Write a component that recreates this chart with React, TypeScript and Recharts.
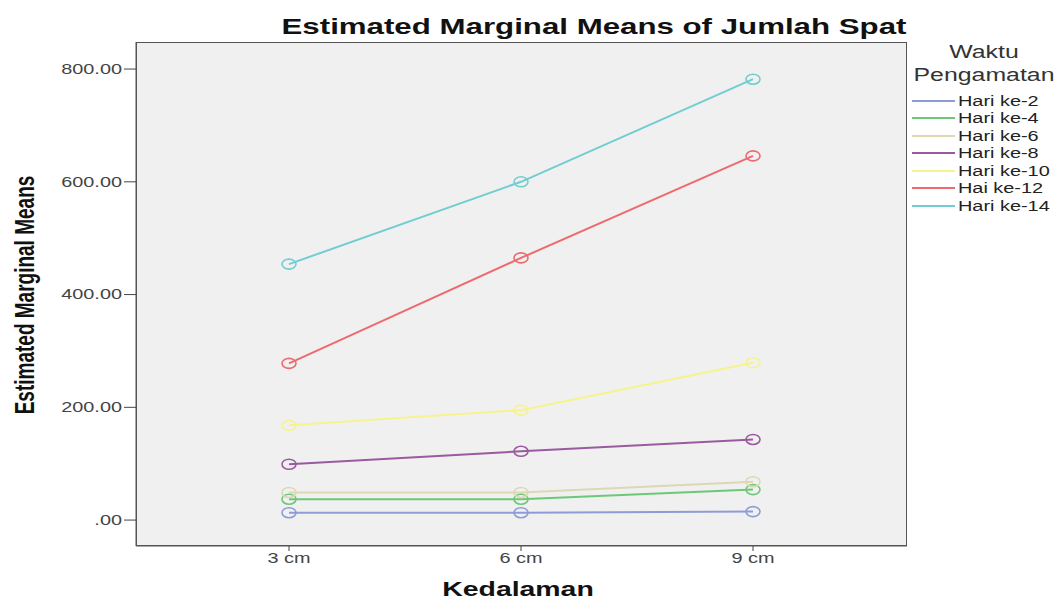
import { LineChart, Line, XAxis, YAxis, CartesianGrid } from 'recharts';

const categories = ['3 cm', '6 cm', '9 cm'];
const hari2 = [13, 13, 15];
const hari4 = [37, 37, 54];
const hari6 = [49, 49, 68];
const hari8 = [99, 122, 143];
const hari10 = [168, 195, 279];
const hai12 = [278, 465, 646];
const hari14 = [454, 600, 782];
const yTicks = [0, 200, 400, 600, 800];

const series = [
    { key: 'h2', label: 'Hari ke-2', values: hari2, color: '#8e9cd6' },
    { key: 'h4', label: 'Hari ke-4', values: hari4, color: '#6cc878' },
    { key: 'h6', label: 'Hari ke-6', values: hari6, color: '#ddd8b4' },
    { key: 'h8', label: 'Hari ke-8', values: hari8, color: '#9a5aa0' },
    { key: 'h10', label: 'Hari ke-10', values: hari10, color: '#f6f38e' },
    { key: 'h12', label: 'Hai ke-12', values: hai12, color: '#ee6a6d' },
    { key: 'h14', label: 'Hari ke-14', values: hari14, color: '#72cdd0' },
];

const data = categories.map((c, i) => {
    const row: Record<string, string | number> = { cat: c };
    series.forEach((s) => { row[s.key] = s.values[i]; });
    return row;
});

const font = 'Arial, "Liberation Sans", sans-serif';
// the source image is stretched horizontally
const SX = 1.42;

const fmt = (v: number) => (v === 0 ? '.00' : v.toFixed(2));

const YTick = (props: any) => {
    const { x, y, payload } = props;
    return (
        <g transform={`translate(${x},${y})`}>
            <text transform={`scale(${SX},1)`} textAnchor="end" dy="0.35em" fill="#444" fontSize={14} fontFamily={font}>
                {fmt(payload.value)}
            </text>
        </g>
    );
};

const XTick = (props: any) => {
    const { x, y, payload } = props;
    return (
        <g transform={`translate(${x},${y})`}>
            <text transform={`scale(${SX},1)`} textAnchor="middle" dy="0.71em" fill="#444" fontSize={14} fontFamily={font}>
                {payload.value}
            </text>
        </g>
    );
};

const makeDot = (color: string) => (props: any) => {
    const { cx, cy, index } = props;
    return <ellipse key={index} cx={cx} cy={cy} rx={7} ry={5} fill="none" stroke={color} strokeWidth={1.6} />;
};

// centred text, stretched horizontally around its centre
const centred = (cx: number, top: number, w: number) => ({
    position: 'absolute' as const,
    left: cx - w / 2,
    top,
    width: w,
    textAlign: 'center' as const,
    transform: `scaleX(${SX})`,
    transformOrigin: 'center',
    whiteSpace: 'nowrap' as const,
});

export default function App() {
    return (
        <div style={{ position: 'absolute', left: 0, top: 0, width: 1055, height: 599, background: '#fff', fontFamily: font, overflow: 'hidden' }}>
            <LineChart width={1055} height={599} data={data} margin={{ top: 42, right: 148, bottom: 23, left: 76 }}>
                <CartesianGrid fill="#f0f0f0" horizontal={false} vertical={false} />
                <XAxis
                    dataKey="cat"
                    height={30}
                    padding={{ left: 153, right: 154 }}
                    tick={XTick}
                    tickSize={5}
                    axisLine={{ stroke: '#555' }}
                    tickLine={{ stroke: '#444' }}
                />
                <YAxis
                    width={60}
                    type="number"
                    domain={[-46, 848]}
                    allowDataOverflow
                    ticks={yTicks}
                    tick={YTick}
                    tickSize={12}
                    axisLine={{ stroke: '#555' }}
                    tickLine={{ stroke: '#444' }}
                />
                {series.map((s) => (
                    <Line
                        key={s.key}
                        dataKey={s.key}
                        type="linear"
                        stroke={s.color}
                        strokeWidth={2}
                        dot={makeDot(s.color)}
                        isAnimationActive={false}
                    />
                ))}
            </LineChart>
            <div style={{ position: 'absolute', left: 136, top: 42, width: 771, height: 504, border: '1px solid #555', boxSizing: 'border-box', pointerEvents: 'none' }} />
            <div style={{ ...centred(594, 14, 480), fontWeight: 'bold', fontSize: 22, color: '#111' }}>
                Estimated Marginal Means of Jumlah Spat
            </div>
            <div style={{ ...centred(518, 578, 200), fontWeight: 'bold', fontSize: 20, color: '#111' }}>
                Kedalaman
            </div>
            <div style={{ position: 'absolute', left: 25, top: 295, transform: `translate(-50%, -50%) rotate(-90deg) scaleY(${SX})`, whiteSpace: 'nowrap', fontWeight: 'bold', fontSize: 19, color: '#111' }}>
                Estimated Marginal Means
            </div>
            <div style={{ ...centred(984, 41, 120), fontSize: 17.5, lineHeight: '23px', color: '#333' }}>
                Waktu<br />Pengamatan
            </div>
            <div style={{ position: 'absolute', left: 912, top: 92 }}>
                {series.map((s) => (
                    <div key={s.key} style={{ display: 'flex', alignItems: 'center', height: 17.5, whiteSpace: 'nowrap' }}>
                        <div style={{ width: 43, height: 2, background: s.color, marginRight: 3, flexShrink: 0 }} />
                        <span style={{ display: 'inline-block', transform: `scaleX(${SX})`, transformOrigin: 'left center', fontSize: 14, color: '#222' }}>{s.label}</span>
                    </div>
                ))}
            </div>
        </div>
    );
}
